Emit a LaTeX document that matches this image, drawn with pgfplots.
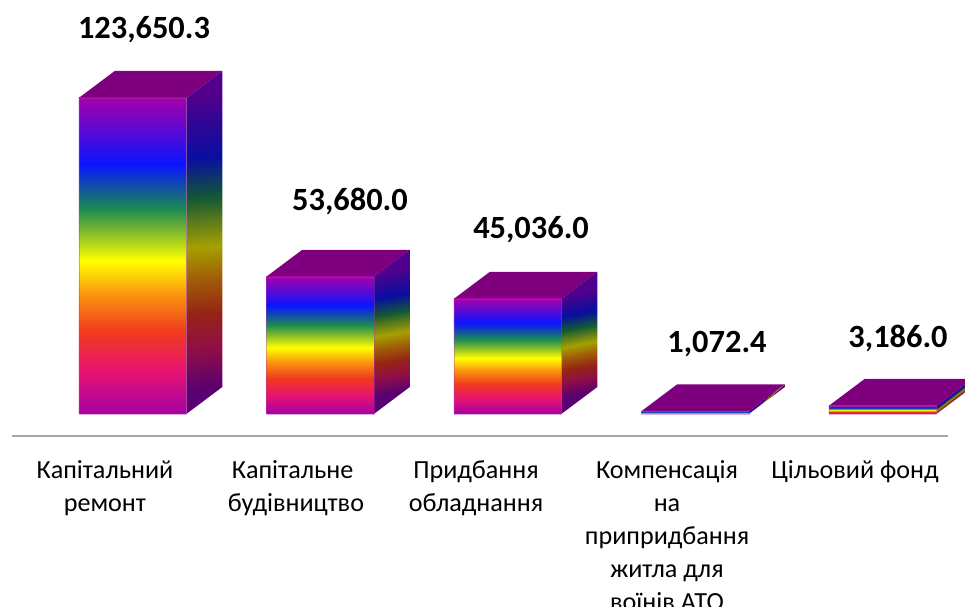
\documentclass[border=0pt]{standalone}
\usepackage{fontspec}
\setmainfont{Carlito}
\usepackage{pgfplots}
\pgfplotsset{compat=1.18}

\definecolor{c0}{RGB}{165,0,165}
\definecolor{c1}{RGB}{232,20,110}
\definecolor{c2}{RGB}{240,58,28}
\definecolor{c3}{RGB}{250,150,15}
\definecolor{c4}{RGB}{255,255,0}
\definecolor{c5}{RGB}{125,185,45}
\definecolor{c6}{RGB}{26,138,80}
\definecolor{c7}{RGB}{10,20,255}
\definecolor{c8}{RGB}{165,0,170}
% front faces: 25bp is the bottom of a bar, 75bp its top
\pgfdeclareverticalshading{rainbowfront}{100bp}{
  color(0bp)=(c0); color(25bp)=(c0); color(32bp)=(c1); color(38bp)=(c2);
  color(44bp)=(c3); color(49.25bp)=(c4); color(54bp)=(c5); color(57.5bp)=(c6);
  color(64.5bp)=(c7); color(75bp)=(c8); color(100bp)=(c8)}

% side faces, darker; a shading turned by the slope of the face, one per height (px)
\definecolor{d0}{RGB}{90,0,112}
\definecolor{d1}{RGB}{145,14,70}
\definecolor{d2}{RGB}{150,36,20}
\definecolor{d3}{RGB}{160,95,8}
\definecolor{d4}{RGB}{165,160,0}
\definecolor{d5}{RGB}{85,120,30}
\definecolor{d6}{RGB}{20,90,50}
\definecolor{d7}{RGB}{8,14,160}
\definecolor{d8}{RGB}{80,0,140}
\newcommand{\sideshade}[2]{%
  \pgfmathsetmacro\sideang{atan(27/(#2+27))}%
  \pgfmathsetmacro\sidea{50+25*(sin(\sideang)-cos(\sideang))}%
  \pgfmathsetmacro\sidek{0.5*#2/(#2+27)*cos(\sideang)}%
  \pgfmathsetmacro\sidep{\sidea+\sidek*14}%
  \pgfmathsetmacro\sideq{\sidea+\sidek*26}%
  \pgfmathsetmacro\sider{\sidea+\sidek*38}%
  \pgfmathsetmacro\sides{\sidea+\sidek*48.5}%
  \pgfmathsetmacro\sidet{\sidea+\sidek*58}%
  \pgfmathsetmacro\sideu{\sidea+\sidek*65}%
  \pgfmathsetmacro\sidev{\sidea+\sidek*79}%
  \pgfmathsetmacro\sidew{\sidea+\sidek*100}%
  \edef\sidetemp{\noexpand\pgfdeclareverticalshading{#1}{100bp}{
    color(0bp)=(d0); color(\sidea bp)=(d0); color(\sidep bp)=(d1); color(\sideq bp)=(d2);
    color(\sider bp)=(d3); color(\sides bp)=(d4); color(\sidet bp)=(d5); color(\sideu bp)=(d6);
    color(\sidev bp)=(d7); color(\sidew bp)=(d8); color(100bp)=(d8)}}%
  \sidetemp}
\sideshade{sideA}{316}
\sideshade{sideB}{137.2}
\sideshade{sideC}{115.1}
\sideshade{sideD}{2.74}
\sideshade{sideE}{8.14}

\definecolor{topface}{RGB}{127,0,127}
\definecolor{edge}{RGB}{176,60,176}

\begin{document}
\begin{tikzpicture}
\useasboundingbox (0,0) rectangle (723.75pt,455.25pt);
\begin{axis}[
    at={(0,0)}, anchor=south west,
    scale only axis,
    width=723.75pt, height=455.25pt,
    hide axis,
    clip=true,
    xmin=-0.70667, xmax=4.44,
    ymin=-75521, ymax=161998,
    frontbar/.style={ybar, bar width=0.5733, bar shift=0pt, shading=rainbowfront, draw=edge, draw opacity=0.4, line width=0.3pt},
]
% baseline
\addplot[draw={rgb,255:red,166;green,166;blue,166}, line width=1.9pt] coordinates {(-0.6427,-8609) (4.349,-8609)};

% top faces
\addplot[fill=topface, draw=none] coordinates {(-0.2867,123650) (-0.0947,134215) (0.4787,134215) (0.2867,123650)} -- cycle;
\addplot[fill=topface, draw=none] coordinates {(0.7133,53680) (0.9053,64245) (1.4787,64245) (1.2867,53680)} -- cycle;
\addplot[fill=topface, draw=none] coordinates {(1.7133,45036) (1.9053,55601) (2.4787,55601) (2.2867,45036)} -- cycle;
\addplot[fill=topface, draw=none] coordinates {(2.7133,1072) (2.9053,11637) (3.4787,11637) (3.2867,1072)} -- cycle;
\addplot[fill=topface, draw=none] coordinates {(3.7133,3186) (3.9053,13751) (4.4787,13751) (4.2867,3186)} -- cycle;

% side faces
\addplot[draw=none, shade, shading=sideA, shading angle=4.5] coordinates {(0.2867,0) (0.4787,10565) (0.4787,134215) (0.2867,123650)} -- cycle;
\addplot[draw=none, shade, shading=sideB, shading angle=9.34] coordinates {(1.2867,0) (1.4787,10565) (1.4787,64245) (1.2867,53680)} -- cycle;
\addplot[draw=none, shade, shading=sideC, shading angle=10.76] coordinates {(2.2867,0) (2.4787,10565) (2.4787,55601) (2.2867,45036)} -- cycle;
\addplot[draw=none, shade, shading=sideD, shading angle=42.24] coordinates {(3.2867,0) (3.4787,10565) (3.4787,11637) (3.2867,1072)} -- cycle;
\addplot[draw=none, shade, shading=sideE, shading angle=37.54] coordinates {(4.2867,0) (4.4787,10565) (4.4787,13751) (4.2867,3186)} -- cycle;

% front faces
\addplot[frontbar] coordinates {(0,123650.3)};
\addplot[frontbar] coordinates {(1,53680.0)};
\addplot[frontbar] coordinates {(2,45036.0)};
\addplot[frontbar] coordinates {(3,1072.4)};
\addplot[frontbar] coordinates {(4,3186.0)};

\tikzset{val/.style={font=\fontsize{24.3}{28}\selectfont\bfseries}}
\node[val] at (rel axis cs:0.1492,0.9505) {123,650.3};
\node[val] at (rel axis cs:0.3627,0.6688) {53,680.0};
\node[val] at (rel axis cs:0.5503,0.6210) {45,036.0};
\node[val] at (rel axis cs:0.7430,0.4332) {1,072.4};
\node[val] at (rel axis cs:0.9306,0.4431) {3,186.0};

\tikzset{cat/.style={font=\fontsize{19.6}{24.8}\selectfont, align=center, anchor=north, inner sep=0pt}}
\node[cat] at (rel axis cs:0.1088,0.2420) {Капітальний\\ремонт};
\node[cat] at (rel axis cs:0.3067,0.2420) {Капітальне\hspace*{5pt}\\будівництво};
\node[cat] at (rel axis cs:0.4933,0.2420) {Придбання\\обладнання};
\node[cat] at (rel axis cs:0.6912,0.2420) {Компенсація\\на\\припридбання\\житла для\\воїнів АТО};
\node[cat] at (rel axis cs:0.8860,0.2420) {Цільовий фонд};
\end{axis}
\end{tikzpicture}
\end{document}
